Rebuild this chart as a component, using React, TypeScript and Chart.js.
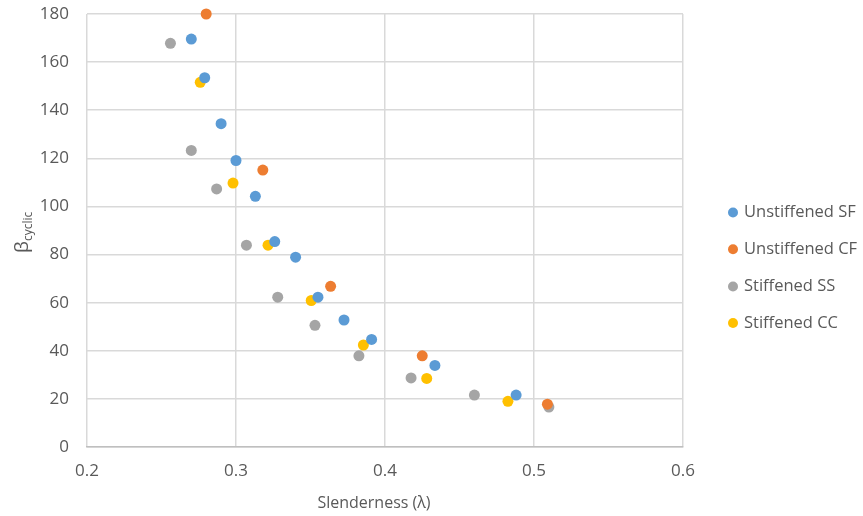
import React, { useEffect, useRef } from "react";
import { Chart, registerables } from "chart.js";

Chart.register(...registerables);

const seriesNames = ["Unstiffened SF", "Unstiffened CF", "Stiffened SS", "Stiffened CC"];
const seriesColors = ["#5B9BD5", "#ED7D31", "#A5A5A5", "#FFC000"];

const sfX = [0.270, 0.279, 0.290, 0.300, 0.313, 0.326, 0.340, 0.355, 0.3725, 0.391, 0.4335, 0.488];
const sfY = [169.6, 153.5, 134.4, 119.1, 104.2, 85.4, 78.9, 62.3, 52.8, 44.7, 33.9, 21.6];

const cfX = [0.280, 0.318, 0.3635, 0.425, 0.509];
const cfY = [180.0, 115.1, 66.8, 37.9, 17.8];

const ssX = [0.256, 0.270, 0.287, 0.307, 0.328, 0.353, 0.3825, 0.4175, 0.460, 0.510];
const ssY = [167.8, 123.3, 107.3, 83.9, 62.3, 50.6, 37.9, 28.7, 21.6, 16.6];

const ccX = [0.276, 0.298, 0.3215, 0.3505, 0.3855, 0.428, 0.4825];
const ccY = [151.6, 109.7, 83.9, 60.9, 42.4, 28.5, 19.0];

const xMin = 0.2, xMax = 0.6, xStep = 0.1;
const yMin = 0, yMax = 180, yStep = 20;

const xTitle = "Slenderness (λ)";
const yTitleMain = "β";
const yTitleSub = "cyclic";

const FONT = "'Open Sans', sans-serif";
const TEXT = "#595959";

function pts(xs: number[], ys: number[]) {
  return xs.map((x, i) => ({ x, y: ys[i] }));
}

export default function App() {
  const ref = useRef<HTMLCanvasElement | null>(null);

  useEffect(() => {
    document.body.style.margin = "0";
    const canvas = ref.current!;
    const allX = [sfX, cfX, ssX, ccX];
    const allY = [sfY, cfY, ssY, ccY];

    const decorPlugin = {
      id: "decor",
      afterDraw(chart: any) {
        const ctx = chart.ctx as CanvasRenderingContext2D;
        const area = chart.chartArea;
        ctx.save();
        // x title
        ctx.fillStyle = TEXT;
        ctx.font = `16px ${FONT}`;
        ctx.textAlign = "center";
        ctx.textBaseline = "middle";
        ctx.fillText(xTitle, (area.left + area.right) / 2 - 11, 503);
        // y title rotated
        ctx.save();
        ctx.translate(28, 253);
        ctx.rotate(-Math.PI / 2);
        ctx.textAlign = "left";
        ctx.textBaseline = "alphabetic";
        ctx.font = `19px ${FONT}`;
        ctx.fillText(yTitleMain, 0, 0);
        const w = ctx.measureText(yTitleMain).width;
        ctx.font = `12px ${FONT}`;
        ctx.fillText(yTitleSub, w, 4);
        ctx.restore();
        // legend
        const legendX = 733;
        const legendYs = [212.5, 249.3, 286.5, 323];
        chart.data.datasets.forEach((ds: any, i: number) => {
          const y = legendYs[i];
          ctx.beginPath();
          ctx.fillStyle = ds.backgroundColor;
          ctx.arc(legendX, y, 5, 0, Math.PI * 2);
          ctx.fill();
          ctx.fillStyle = TEXT;
          ctx.font = `16.5px ${FONT}`;
          ctx.textAlign = "left";
          ctx.textBaseline = "middle";
          ctx.fillText(ds.label, legendX + 11, y);
        });
        ctx.restore();
      },
    };

    const chart = new Chart(canvas, {
      type: "scatter",
      data: {
        datasets: seriesNames.map((name, i) => ({
          label: name,
          data: pts(allX[i], allY[i]),
          backgroundColor: seriesColors[i],
          borderColor: seriesColors[i],
          borderWidth: 0,
          pointRadius: 5.5,
          pointHoverRadius: 5.5,
          clip: false,
        })),
      },
      options: {
        animation: false,
        responsive: false,
        maintainAspectRatio: false,
        events: [],
        layout: { padding: { left: 0, right: 180, top: 14, bottom: 0 } },
        plugins: { legend: { display: false }, tooltip: { enabled: false } },
        scales: {
          x: {
            type: "linear",
            min: xMin,
            max: xMax,
            afterFit: (s: any) => { s.height = 69; },
            afterBuildTicks: (s: any) => {
              const t = [];
              for (let v = xMin; v <= xMax + 1e-9; v += xStep) t.push({ value: Math.round(v * 10) / 10 });
              s.ticks = t;
            },
            ticks: {
              color: TEXT,
              font: { family: FONT, size: 17 },
              padding: 14,
              callback: (v: any) => Number(v).toFixed(1),
            },
            grid: { color: "#d9d9d9", lineWidth: 1.5, drawTicks: false },
            border: { display: true, color: "#bfbfbf", width: 1.5 },
          },
          y: {
            type: "linear",
            min: yMin,
            max: yMax,
            afterFit: (s: any) => { s.width = 87; s.paddingTop = 0; s.paddingBottom = 0; },
            ticks: {
              stepSize: yStep,
              color: TEXT,
              font: { family: FONT, size: 17 },
              padding: 18,
            },
            grid: { color: "#d9d9d9", lineWidth: 1.5, drawTicks: false },
            border: { display: false },
          },
        },
      },
      plugins: [decorPlugin],
    });
    return () => chart.destroy();
  }, []);

  return (
    <div style={{ width: 863, height: 516, background: "#fff" }}>
      <canvas ref={ref} width={863} height={516} style={{ display: "block" }} />
    </div>
  );
}
